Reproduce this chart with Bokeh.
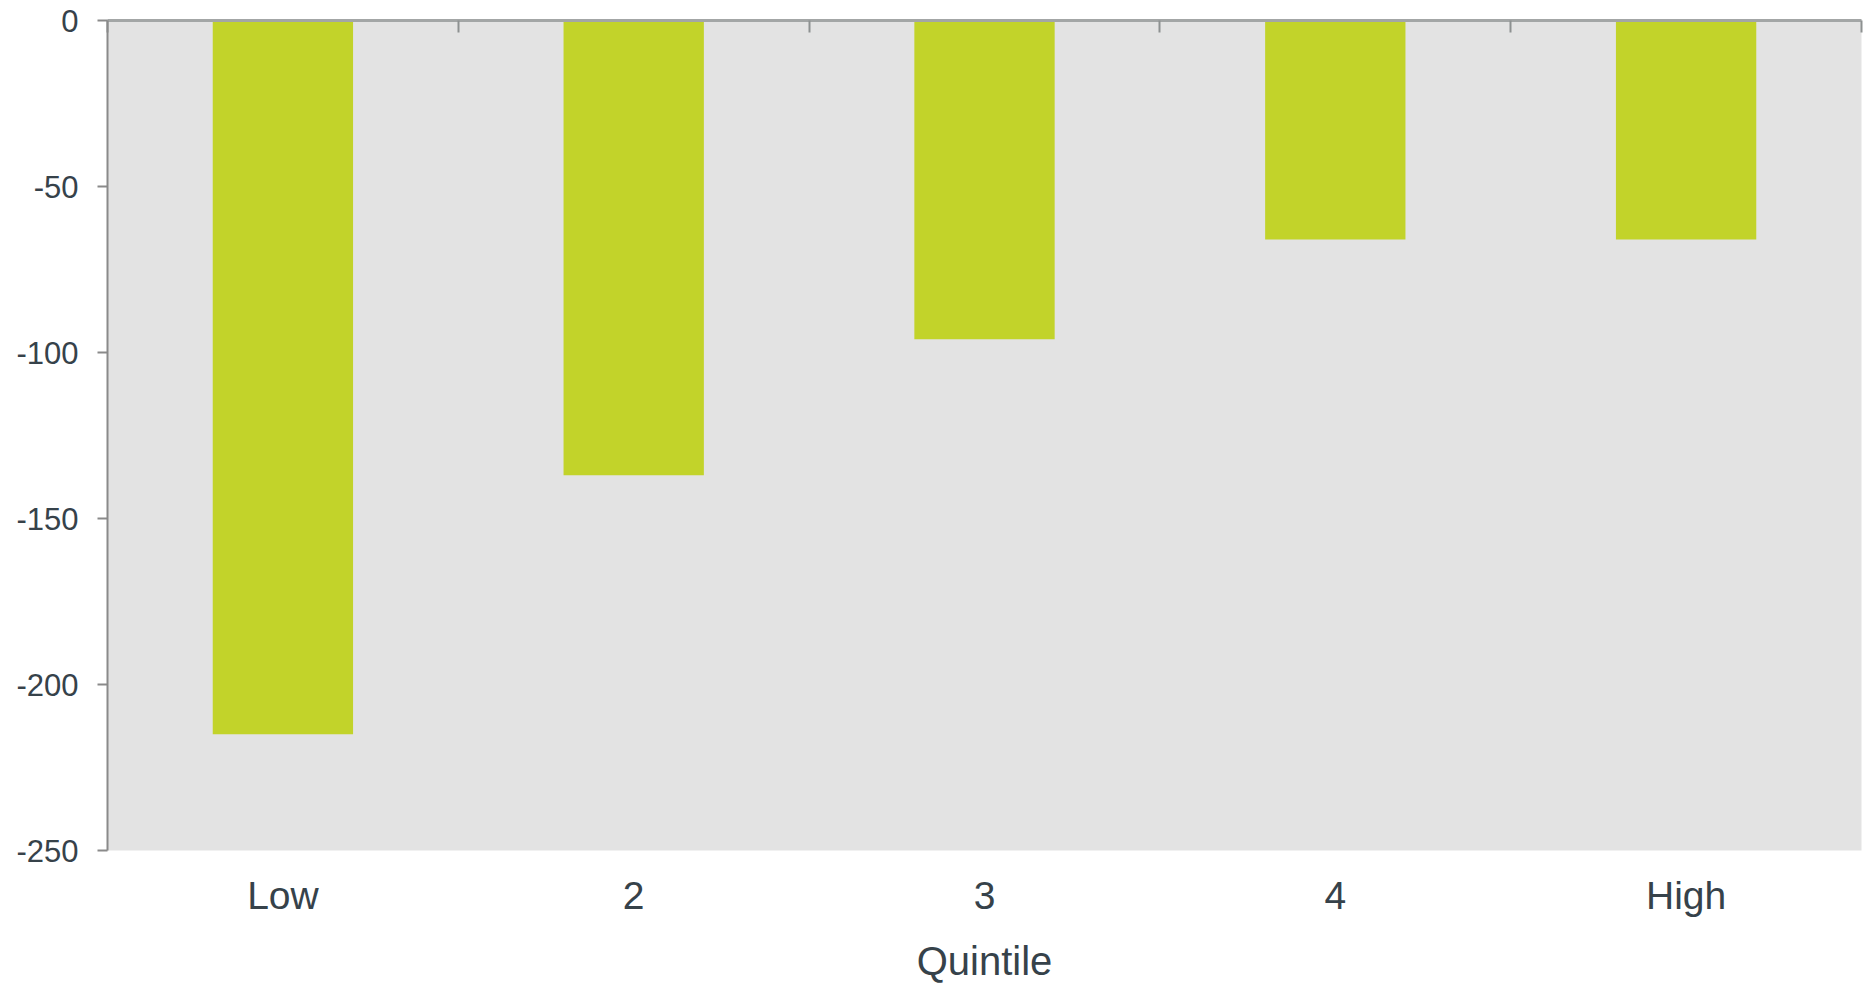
from bokeh.plotting import figure
from bokeh.models import Range1d, FixedTicker, LinearAxis
from bokeh.embed import file_html
from bokeh.resources import INLINE

# Data
categories = ["Low", "2", "3", "4", "High"]
values = [-215, -137, -96, -66, -66]
y_ticks = [-250, -200, -150, -100, -50, 0]
x_title = "Quintile"

FONT = "Liberation Sans"
TEXT = "#36424a"
BAR = "#c2d32a"
BG = "#e3e3e3"

n = len(categories)
positions = list(range(n))

p = figure(width=1868, height=986, output_backend="svg", toolbar_location=None,
           x_range=Range1d(-0.5, n - 0.5), y_range=Range1d(min(y_ticks), max(y_ticks)),
           min_border_left=107, min_border_right=7, min_border_top=20, min_border_bottom=136)

p.background_fill_color = BG
p.border_fill_color = "white"
p.outline_line_color = None
p.xgrid.visible = False
p.ygrid.visible = False

p.vbar(x=positions, top=0, bottom=values, width=0.4, fill_color=BAR, line_color=None)

# y axis
ya = p.yaxis[0]
ya.ticker = FixedTicker(ticks=y_ticks)
ya.major_label_overrides = {t: str(t) for t in y_ticks}
ya.major_tick_out = 10
ya.major_tick_in = 0
ya.minor_tick_line_color = None
ya.axis_line_color = "#8a8a8a"
ya.axis_line_width = 2
ya.major_tick_line_color = "#8a8a8a"
ya.major_tick_line_width = 2
ya.major_label_text_font = FONT
ya.major_label_text_font_size = "31px"
ya.major_label_text_color = TEXT
ya.major_label_standoff = 19

# bottom axis: category labels
xa = p.xaxis[0]
xa.ticker = FixedTicker(ticks=positions)
xa.major_label_overrides = {i: c for i, c in zip(positions, categories)}
xa.axis_line_color = None
xa.major_tick_line_color = None
xa.minor_tick_line_color = None
xa.major_tick_out = 0
xa.major_tick_in = 0
xa.major_label_standoff = 23
xa.major_label_text_font = FONT
xa.major_label_text_font_size = "39px"
xa.major_label_text_color = TEXT
xa.axis_label = x_title
xa.axis_label_text_font = FONT
xa.axis_label_text_font_size = "40px"
xa.axis_label_text_font_style = "normal"
xa.axis_label_text_color = TEXT
xa.axis_label_standoff = 19

# top axis: line at zero with category boundary ticks (no labels)
bounds = [i - 0.5 for i in range(n + 1)]
top = LinearAxis(ticker=FixedTicker(ticks=bounds),
                 major_label_overrides={b: "" for b in bounds},
                 major_label_text_font_size="1px", major_label_standoff=0,
                 major_tick_out=0, major_tick_in=12,
                 axis_line_color="#a3a6a6", axis_line_width=3,
                 major_tick_line_color="#8d9191", major_tick_line_width=2,
                 minor_tick_line_color=None)
p.add_layout(top, "above")

open("out.html", "w").write(file_html(p, INLINE))
